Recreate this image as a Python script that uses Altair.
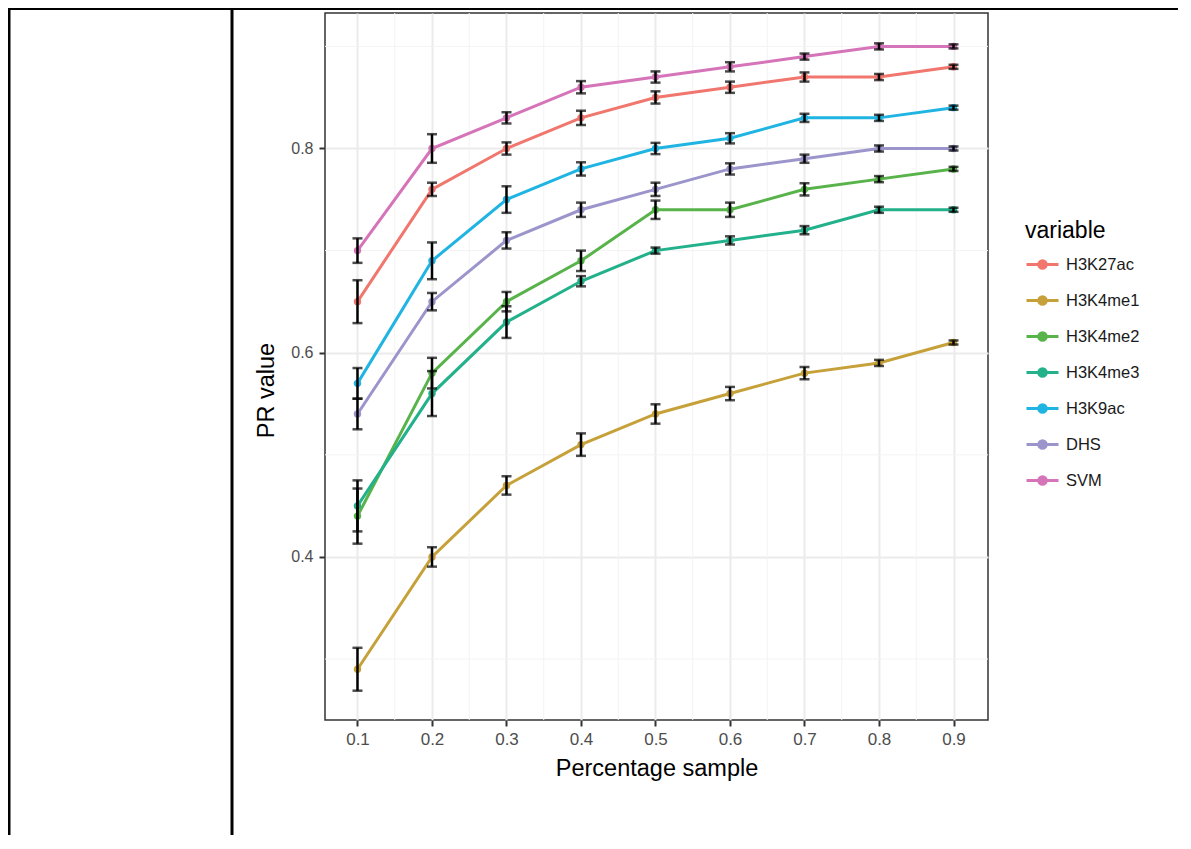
import altair as alt
import pandas as pd

x_vals = [0.1, 0.2, 0.3, 0.4, 0.5, 0.6, 0.7, 0.8, 0.9]
x_minor = [0.15, 0.25, 0.35, 0.45, 0.55, 0.65, 0.75, 0.85]
y_major = [0.4, 0.6, 0.8]
y_minor = [0.3, 0.5, 0.7, 0.9]

series_names = ["H3K27ac", "H3K4me1", "H3K4me2", "H3K4me3", "H3K9ac", "DHS", "SVM"]
series_colors = ["#F0766E", "#C6A13A", "#58B34A", "#22B18B", "#1FB4E2", "#9B95CB", "#D574B8"]

h3k27ac = [0.65, 0.76, 0.80, 0.83, 0.85, 0.86, 0.87, 0.87, 0.88]
h3k27ac_err = [0.021, 0.0065, 0.006, 0.007, 0.006, 0.0055, 0.0045, 0.003, 0.002]
h3k4me1 = [0.29, 0.40, 0.47, 0.51, 0.54, 0.56, 0.58, 0.59, 0.61]
h3k4me1_err = [0.021, 0.0095, 0.009, 0.011, 0.0095, 0.0065, 0.006, 0.003, 0.002]
h3k4me2 = [0.44, 0.58, 0.65, 0.69, 0.74, 0.74, 0.76, 0.77, 0.78]
h3k4me2_err = [0.027, 0.015, 0.0095, 0.01, 0.009, 0.007, 0.006, 0.003, 0.002]
h3k4me3 = [0.45, 0.56, 0.63, 0.67, 0.70, 0.71, 0.72, 0.74, 0.74]
h3k4me3_err = [0.025, 0.022, 0.0155, 0.005, 0.003, 0.004, 0.004, 0.003, 0.002]
h3k9ac = [0.57, 0.69, 0.75, 0.78, 0.80, 0.81, 0.83, 0.83, 0.84]
h3k9ac_err = [0.015, 0.018, 0.013, 0.0065, 0.0055, 0.005, 0.004, 0.003, 0.002]
dhs = [0.54, 0.65, 0.71, 0.74, 0.76, 0.78, 0.79, 0.80, 0.80]
dhs_err = [0.015, 0.0085, 0.008, 0.007, 0.0065, 0.0055, 0.004, 0.003, 0.002]
svm = [0.70, 0.80, 0.83, 0.86, 0.87, 0.88, 0.89, 0.90, 0.90]
svm_err = [0.012, 0.014, 0.0055, 0.006, 0.0055, 0.0045, 0.003, 0.003, 0.002]

means = [h3k27ac, h3k4me1, h3k4me2, h3k4me3, h3k9ac, dhs, svm]
errs = [h3k27ac_err, h3k4me1_err, h3k4me2_err, h3k4me3_err, h3k9ac_err, dhs_err, svm_err]

rows = []
for name, m, e in zip(series_names, means, errs):
    for xv, mv, ev in zip(x_vals, m, e):
        rows.append({"x": xv, "value": mv, "lo": mv - ev, "hi": mv + ev, "variable": name})
df = pd.DataFrame(rows)

X_DOMAIN = [0.0564, 0.9463]
Y_DOMAIN = [0.2403, 0.9327]

xs = alt.Scale(domain=X_DOMAIN, nice=False, zero=False)
ys = alt.Scale(domain=Y_DOMAIN, nice=False, zero=False)
color = alt.Color(
    "variable:N",
    scale=alt.Scale(domain=series_names, range=series_colors),
    legend=alt.Legend(
        title="variable",
        orient="none",
        legendX=700,
        legendY=207,
        symbolType="M-1,0L1,0M-0.24,0A0.24,0.24,0,1,1,0.24,0A0.24,0.24,0,1,1,-0.24,0Z",
        symbolSize=1024,
        symbolStrokeWidth=2.8,
        labelOffset=6,
        rowPadding=9,
        titlePadding=4,
        titleFontSize=23,
        titleFontWeight="normal",
        titleColor="black",
        labelFontSize=16.5,
        labelColor="#1A1A1A",
    ),
)

axis_common = dict(
    format=".1f",
    labelColor="#4D4D4D",
    tickColor="#333333",
    tickSize=6,
    tickWidth=2,
    domain=False,
    grid=True,
    gridColor="#EBEBEB",
    gridWidth=2,
    titleFontSize=23.5,
    titleFontWeight="normal",
    titleColor="black",
)
x_axis = alt.Axis(values=x_vals, title="Percentage sample", labelFontSize=17,
                  labelPadding=5, titlePadding=9, **axis_common)
y_axis = alt.Axis(values=y_major, title="PR value", labelFontSize=16,
                  labelPadding=6, titlePadding=12, titleY=377, **axis_common)

base = alt.Chart(df)

minor_x = alt.Chart(pd.DataFrame({"mx": x_minor})).mark_rule(color="#F3F3F3", strokeWidth=1).encode(
    x=alt.X("mx:Q", scale=xs, axis=x_axis)
)
minor_y = alt.Chart(pd.DataFrame({"my": y_minor})).mark_rule(color="#F3F3F3", strokeWidth=1).encode(
    y=alt.Y("my:Q", scale=ys, axis=y_axis)
)

lines = base.mark_line(strokeWidth=3).encode(
    x=alt.X("x:Q", scale=xs, axis=x_axis),
    y=alt.Y("value:Q", scale=ys, axis=y_axis),
    color=color,
)
points = base.mark_circle(size=55, opacity=1).encode(
    x=alt.X("x:Q", scale=xs),
    y=alt.Y("value:Q", scale=ys),
    color=color,
)
err = base.mark_rule(color="black", strokeWidth=2.5).encode(
    x=alt.X("x:Q", scale=xs),
    y=alt.Y("lo:Q", scale=ys),
    y2="hi:Q",
)
cap_lo = base.mark_tick(color="black", orient="horizontal", size=10, thickness=2.5).encode(
    x=alt.X("x:Q", scale=xs),
    y=alt.Y("lo:Q", scale=ys),
)
cap_hi = base.mark_tick(color="black", orient="horizontal", size=10, thickness=2.5).encode(
    x=alt.X("x:Q", scale=xs),
    y=alt.Y("hi:Q", scale=ys),
)

one = alt.Data(values=[{"k": 1}])
frame_v = alt.Chart(one).mark_rule(color="black", strokeWidth=3).encode(
    x=alt.value(-93), y=alt.value(-5), y2=alt.value(836)
)
frame_l = alt.Chart(one).mark_rule(color="black", strokeWidth=3).encode(
    x=alt.value(-316), y=alt.value(-5), y2=alt.value(836)
)
frame_t = alt.Chart(one).mark_rule(color="black", strokeWidth=2).encode(
    x=alt.value(-317), x2=alt.value(853), y=alt.value(-4)
)

chart = (
    alt.layer(minor_x, minor_y, lines, points, err, cap_lo, cap_hi, frame_v, frame_l, frame_t)
    .resolve_scale(x="shared", y="shared")
    .properties(
        width=663,
        height=707,
        autosize=alt.AutoSizeParams(type="none"),
        padding={"left": 317, "top": 5, "right": 195, "bottom": 115},
    )
    .configure(font="Liberation Sans")
    .configure_view(stroke="#333333", strokeWidth=1.5)
)

chart.save("out.html", embed_options={"renderer": "svg", "actions": False})
